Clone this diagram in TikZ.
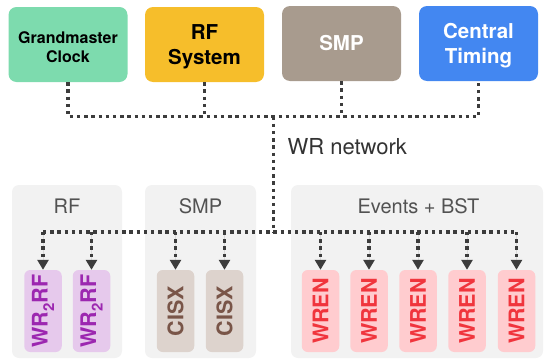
\documentclass[tikz,border=0pt]{standalone}
\usepackage{fontspec}
\setmainfont{TeX Gyre Heros}
\usetikzlibrary{arrows.meta}

\definecolor{gmgreen}{HTML}{7DDBAE}
\definecolor{rfyellow}{HTML}{F6BE2B}
\definecolor{smpbrown}{HTML}{A89B8E}
\definecolor{ctblue}{HTML}{4387F1}
\definecolor{groupbg}{HTML}{F2F2F2}
\definecolor{netgray}{HTML}{3C3C3C}
\definecolor{wrfill}{HTML}{E6C9EC}
\definecolor{wrtext}{HTML}{9C27B0}
\definecolor{cisxfill}{HTML}{DDD3CD}
\definecolor{cisxtext}{HTML}{795548}
\definecolor{wrenfill}{HTML}{FFCCCF}
\definecolor{wrentext}{HTML}{F0353D}

\tikzset{
  topbox/.style={rounded corners=8pt, minimum width=119pt, minimum height=75pt,
    inner sep=0pt},
  toptext/.style={align=center, inner sep=0pt, font=\bfseries\fontsize{20.5}{25}\selectfont},
  groupbox/.style={fill=groupbg, rounded corners=7pt, minimum width=#1,
    minimum height=173pt, inner sep=0pt},
  grouplabel/.style={text=black!68, font=\fontsize{20}{22}\selectfont},
  leafbox/.style={rounded corners=6pt, minimum width=37.5pt, minimum height=82pt,
    inner sep=0pt},
  leaftext/.style={rotate=90, font=\bfseries\fontsize{21.5}{22}\selectfont},
  net/.style={draw=netgray, line width=3.4pt, dash pattern=on 3.4pt off 3.8pt},
  feed/.style={net, -{Triangle[length=10pt,width=11pt]}, fill=netgray},
}

\begin{document}
\begin{tikzpicture}[x=1pt,y=-1pt]
  \useasboundingbox (0,0) rectangle (544,364);

  % sources on the timing network
  \node[topbox, fill=gmgreen] (gm) at (68,44.5) {};
  \node[topbox, fill=rfyellow] (rf) at (204.5,44.5) {};
  \node[topbox, fill=smpbrown] (smp) at (341.5,43.5) {};
  \node[topbox, fill=ctblue] (ct) at (478.5,43.5) {};
  \node[toptext, font=\bfseries\fontsize{16}{19}\selectfont] (gmt) at ([yshift=-3pt]gm.center) {Grandmaster\\Clock};
  \node[toptext] (rft) at ([yshift=-2.5pt]rf.center) {RF\\System};
  \node[toptext, text=white] (smpt) at (smp.center) {SMP};
  \node[toptext, text=white] (ctt) at ([yshift=-2.5pt]ct.center) {Central\\Timing};

  % receiver groups
  \node[groupbox=110pt] (grf) at (67,271.5) {};
  \node[groupbox=111pt] (gsmp) at (200.5,271.5) {};
  \node[groupbox=252pt] (gev) at (417,271.5) {};
  \node[grouplabel] (lrf) at (67,206) {RF};
  \node[grouplabel] (lsmp) at (200.5,206) {SMP};
  \node[grouplabel] (lev) at (418.5,206) {Events + BST};

  % receivers
  \foreach \n/\x in {r1/43, r2/91.5}{
    \node[leafbox, fill=wrfill] (\n) at (\x,311) {};
    \node[leaftext, text=wrtext] at (\n) {WR\raisebox{-0.3em}{\fontsize{15}{15}\selectfont 2}RF};
  }
  \foreach \n/\x in {c1/175.5, c2/224.5}{
    \node[leafbox, fill=cisxfill] (\n) at (\x,311) {};
    \node[leaftext, text=cisxtext] at (\n) {CISX};
  }
  \foreach \n/\x in {w1/320.5, w2/369, w3/418, w4/467, w5/516.5}{
    \node[leafbox, fill=wrenfill] (\n) at (\x,311) {};
    \node[leaftext, text=wrentext] at (\n) {WREN};
  }

  % upper bus joining the sources
  \coordinate (hub) at (273.5,116.5);
  \coordinate (drop) at (273.5,232);
  \draw[net] (gm.south) |- (hub) -| (ct.south);
  \draw[net] (rf.south) -- (rf.south |- hub);
  \draw[net] (smp.south) -- (smp.south |- hub);
  \draw[net] (hub) -- (drop);
  \node[anchor=west, text=black!80, font=\fontsize{22}{24}\selectfont] (wrn) at (284,147) {WR network};

  % lower bus feeding the receivers
  \draw[net] (r1.north |- drop) -- (w5.north |- drop);
  \foreach \n in {r1,r2,c1,c2,w1,w2,w3,w4,w5}{
    \draw[feed] (\n.north |- drop) -- (\n.north);
  }
\end{tikzpicture}
\end{document}
